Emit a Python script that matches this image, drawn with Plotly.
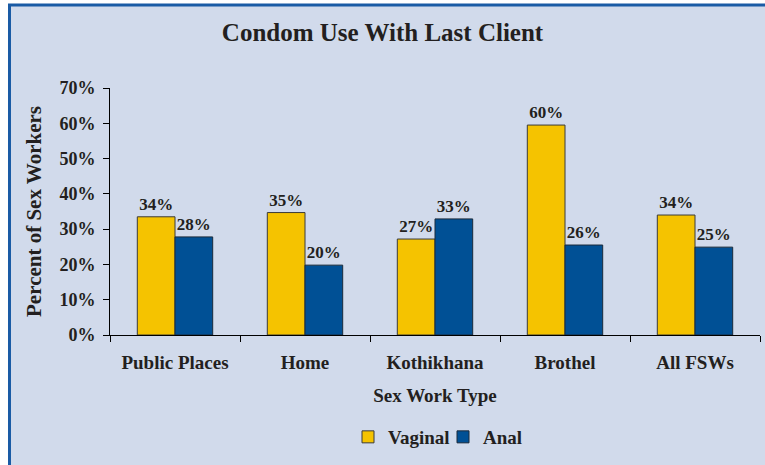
import plotly.graph_objects as go

categories = ["Public Places", "Home", "Kothikhana", "Brothel", "All FSWs"]
vaginal = [33.5, 34.7, 27.2, 59.5, 34.0]
anal = [27.8, 19.8, 32.9, 25.5, 24.9]
vaginal_labels = ["34%", "35%", "27%", "60%", "34%"]
anal_labels = ["28%", "20%", "33%", "26%", "25%"]
y_ticks = [0, 10, 20, 30, 40, 50, 60, 70]
y_tick_labels = ["0%", "10%", "20%", "30%", "40%", "50%", "60%", "70%"]

FONT = "Liberation Serif"
TXT = "#231F20"
BG = "#D1DAEB"

W, H = 765, 465
L, R, T, B = 110, 5, 88, 130
pw, ph = W - L - R, H - T - B

def px(x):
    return (x - L) / pw

def py(y):
    return (H - B - y) / ph

fig = go.Figure()
fig.add_trace(go.Bar(
    name="<b>Vaginal</b>", x=categories, y=vaginal,
    text=["<b>%s</b>" % s for s in vaginal_labels],
    textposition="outside", cliponaxis=False,
    textfont=dict(family=FONT, size=17, color=TXT),
    marker=dict(color="#F5C300", line=dict(color="#3a3a3a", width=1)),
))
fig.add_trace(go.Bar(
    name="<b>Anal</b>", x=categories, y=anal,
    text=["<b>%s</b>" % s for s in anal_labels],
    textposition="outside", cliponaxis=False,
    textfont=dict(family=FONT, size=17, color=TXT),
    marker=dict(color="#005095", line=dict(color="#1a2a3a", width=1)),
))

fig.update_layout(
    width=W, height=H,
    margin=dict(l=L, r=R, t=T, b=B, pad=0),
    paper_bgcolor="white",
    plot_bgcolor="rgba(0,0,0,0)",
    barmode="group", bargap=0.42, bargroupgap=0,
    font=dict(family=FONT, color=TXT, size=16),
    title=dict(text="<b>Condom Use With Last Client</b>", x=0.5, xref="container",
               xanchor="center", y=1 - 32 / H, yanchor="middle",
               font=dict(family=FONT, size=25, color=TXT)),
    showlegend=True,
    legend=dict(orientation="h", x=px(360 - 12), xanchor="left", y=py(437),
                yanchor="middle", bgcolor="rgba(0,0,0,0)",
                font=dict(family=FONT, size=19, color=TXT),
                itemwidth=30, traceorder="normal",
                entrywidthmode="pixels", entrywidth=50),
    xaxis=dict(
        type="category", tickson="boundaries", ticks="outside", ticklen=6,
        tickcolor="black", showline=True, linecolor="black", linewidth=1,
        tickfont=dict(family=FONT, size=19, color=TXT),
        ticklabelstandoff=10,
        title=dict(text="<b>Sex Work Type</b>", standoff=16,
                   font=dict(family=FONT, size=19, color=TXT)),
        tickprefix="<b>", ticksuffix="</b>",
    ),
    yaxis=dict(
        range=[0, 70], tickvals=y_ticks, ticktext=["<b>%s</b>" % t for t in y_tick_labels],
        ticks="outside", ticklen=6, tickcolor="black", showline=True,
        linecolor="black", linewidth=1, showgrid=False, zeroline=False,
        tickfont=dict(family=FONT, size=18, color=TXT),
        ticklabelstandoff=4,
        title=dict(text="<b>Percent of Sex Workers</b>", standoff=12,
                   font=dict(family=FONT, size=21, color=TXT)),
    ),
    shapes=[dict(type="rect", xref="paper", yref="paper", layer="below",
                 x0=px(9.5), x1=px(780), y0=py(480), y1=py(5),
                 fillcolor=BG, line=dict(color="#1A5BA5", width=3))],
)

fig.write_html("out.html", config={"displayModeBar": False},
               post_script="document.body.style.margin='0';")
